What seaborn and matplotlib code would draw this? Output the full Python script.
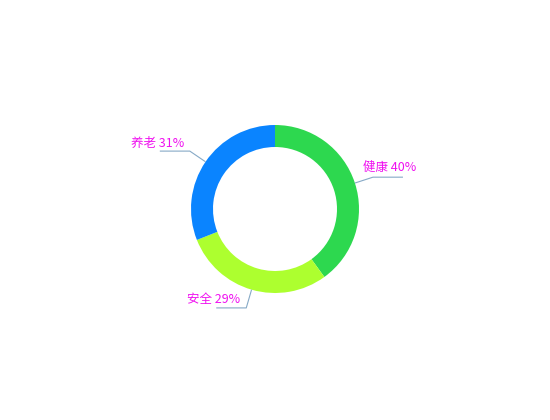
import numpy as np
import matplotlib
matplotlib.use("Agg")
import matplotlib.pyplot as plt
import seaborn as sns

categories = ["健康", "安全", "养老"]
values = [40, 29, 31]
colors = ["#2DD84F", "#ADFF2F", "#0A84FF"]

sns.set_theme(style="white")
plt.rcParams['font.family'] = ['Noto Sans CJK SC', 'DejaVu Sans']

W, H = 550, 420
fig = plt.figure(figsize=(5.5, 4.2), dpi=100)
ax = fig.add_axes([0, 0, 1, 1])

cx, cy = 275, H - 209
R = 84
ring = 22
wedges, _ = ax.pie(values, colors=colors, startangle=90, counterclock=False,
                   center=(cx, cy), radius=R, frame=True,
                   wedgeprops=dict(width=ring, linewidth=0))
ax.set_xlim(0, W)
ax.set_ylim(0, H)
ax.axis("off")

total = sum(values)
line_color = "#86a9c6"
for w, cat, v in zip(wedges, categories, values):
    mid = np.deg2rad((w.theta1 + w.theta2) / 2)
    x0, y0 = cx + R * np.cos(mid), cy + R * np.sin(mid)
    x1, y1 = cx + 103 * np.cos(mid), cy + 103 * np.sin(mid)
    side = 1 if np.cos(mid) >= 0 else -1
    x2 = x1 + side * 30
    ax.plot([x0, x1, x2], [y0, y1, y1], color=line_color, lw=0.8,
            solid_capstyle="butt")
    label = f"{cat} {round(v / total * 100)}%"
    if side > 0:
        ax.text(x1 - 10, y1 + 10, label, ha="left", va="center",
                color="#F011F0", fontsize=9)
    else:
        ax.text(x1 - 6, y1 + 8, label, ha="right", va="center",
                color="#F011F0", fontsize=9)

fig.savefig("out.png", dpi=100, facecolor="white")
